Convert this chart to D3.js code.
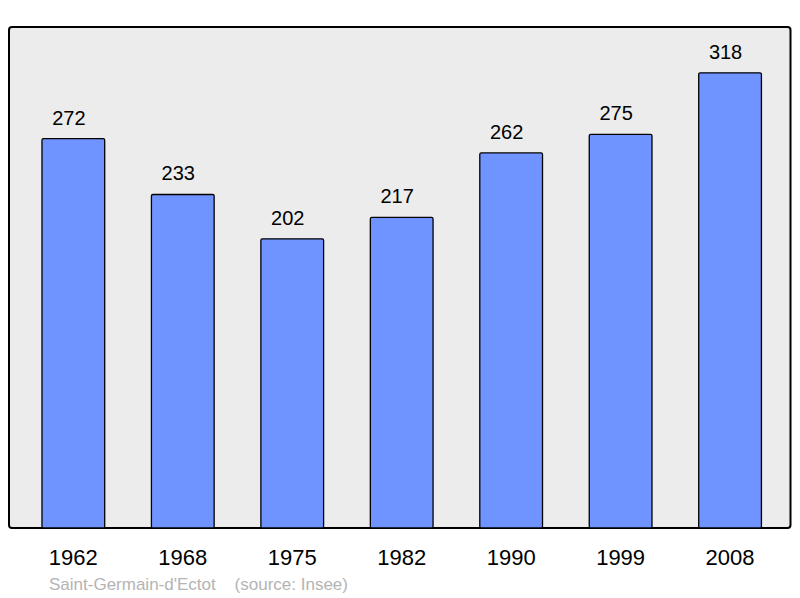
<!DOCTYPE html>
<html><head><meta charset="utf-8">
<script src="https://cdn.jsdelivr.net/npm/d3@7"></script>
<style>body{margin:0;background:#fff}svg{display:block}</style>
</head><body>
<svg id="c" width="800" height="598"></svg>
<script>
const years = ["1962","1968","1975","1982","1990","1999","2008"];
const population = [272,233,202,217,262,275,318];
const place = "Saint-Germain-d'Ectot";
const source = "(source: Insee)";

const svg = d3.select("#c");
const panel = {x0:9, y0:27, x1:790.5, y1:528};
svg.append("rect").attr("x",panel.x0).attr("y",panel.y0)
  .attr("width",panel.x1-panel.x0).attr("height",panel.y1-panel.y0)
  .attr("rx",3).attr("fill","#ececec").attr("stroke","#000").attr("stroke-width",2);

const x = d3.scaleBand().domain(years).range([18.6,784.8]).paddingInner(0.427).paddingOuter(0.2135);
const y = d3.scaleLinear().domain([0,350]).range([panel.y1,panel.y0]);

svg.selectAll("rect.bar").data(population).join("rect").attr("class","bar")
  .attr("x",(d,i)=>x(years[i])).attr("y",d=>y(d))
  .attr("width",x.bandwidth()).attr("height",d=>y(0)-y(d))
  .attr("fill","#7094ff").attr("stroke","#000").attr("stroke-width",1.3).attr("rx",1.5);

svg.selectAll("text.val").data(population).join("text").attr("class","val")
  .attr("x",(d,i)=>x(years[i])+x.bandwidth()/2-4.5).attr("y",d=>y(d)-14)
  .attr("text-anchor","middle").attr("font-family","Liberation Sans, Arial, sans-serif")
  .attr("font-size",20).attr("fill","#000").text(d=>d);

const xa = svg.append("g").attr("transform",`translate(0,${panel.y1})`)
  .call(d3.axisBottom(x).tickSize(0).tickPadding(0));
xa.select(".domain").remove();
xa.selectAll("text").attr("y",37).attr("dy",null).attr("font-family","Liberation Sans, Arial, sans-serif")
  .attr("font-size",22).attr("fill","#000");

svg.append("text").attr("x",49).attr("y",590).attr("font-family","Liberation Sans, Arial, sans-serif")
  .attr("font-size",17).attr("fill","#b4b4b4").attr("xml:space","preserve")
  .text(place + "    " + source);
</script>
</body></html>
